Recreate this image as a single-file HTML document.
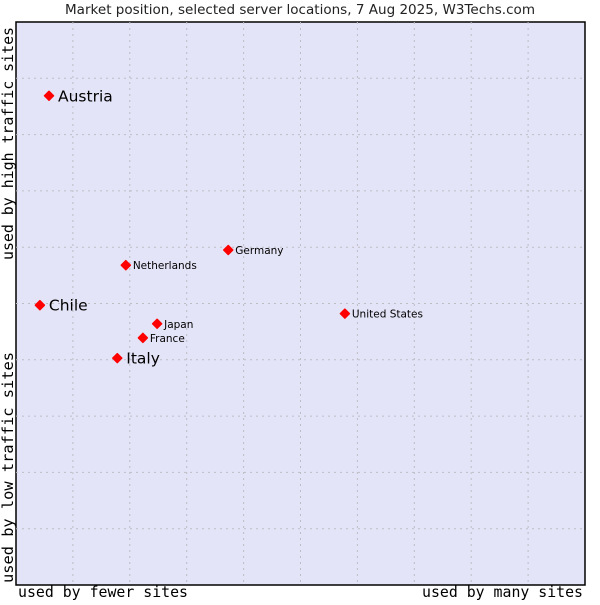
<!DOCTYPE html>
<html><head><meta charset="utf-8"><style>
body{margin:0;background:#fff;width:600px;height:600px;overflow:hidden}
svg text{font-family:"DejaVu Sans","Liberation Sans",sans-serif}
.mono{font-family:"DejaVu Sans Mono","Liberation Mono",monospace}
</style></head><body>
<svg id="chart" width="600" height="600">
<text x="65" y="14" font-size="13" textLength="470" lengthAdjust="spacingAndGlyphs" fill="#222">Market position, selected server locations, 7 Aug 2025, W3Techs.com</text>
<rect x="16" y="22" width="569" height="563" fill="#e4e4f8" stroke="#000" stroke-width="1.5"/>
<g id="grid"></g>
<g id="pts"></g>
<text class="mono" x="18" y="597" font-size="15" textLength="170" lengthAdjust="spacingAndGlyphs" fill="#000">used by fewer sites</text>
<text class="mono" x="422" y="597" font-size="15" textLength="161" lengthAdjust="spacingAndGlyphs" fill="#000">used by many sites</text>
<text class="mono" transform="translate(13,583) rotate(-90)" font-size="15" textLength="231" lengthAdjust="spacingAndGlyphs" fill="#000">used by low traffic sites</text>
<text class="mono" transform="translate(13,260) rotate(-90)" font-size="15" textLength="233" lengthAdjust="spacingAndGlyphs" fill="#000">used by high traffic sites</text>
</svg>
<script>
const names=["Austria","Chile","Italy","Netherlands","Germany","Japan","France","United States"];
const xValues=[5.8,4.2,17.8,19.3,37.3,24.8,22.3,57.8];
const yValues=[86.9,49.7,40.3,56.8,59.5,46.4,43.9,48.2];
const bigLabel=[true,true,true,false,false,false,false,false];
const gridTicks=[10,20,30,40,50,60,70,80,90];
const L=16,R=585,T=22,B=585;
const sx=v=>L+(R-L)*v/100, sy=v=>B-(B-T)*v/100;
const NS="http://www.w3.org/2000/svg";
const grid=document.getElementById('grid'), pts=document.getElementById('pts');
gridTicks.forEach(t=>{
  const a=document.createElementNS(NS,'line');
  
  
  a.setAttribute('x1',sx(t));a.setAttribute('x2',sx(t));a.setAttribute('y1',T);a.setAttribute('y2',B);
  a.setAttribute('stroke','#bdbdc4');a.setAttribute('stroke-dasharray','2,4');grid.appendChild(a);
  const b=document.createElementNS(NS,'line');
  
  
  b.setAttribute('y1',sy(t));b.setAttribute('y2',sy(t));b.setAttribute('x1',L);b.setAttribute('x2',R);
  b.setAttribute('stroke','#bdbdc4');b.setAttribute('stroke-dasharray','2,4');grid.appendChild(b);
});
names.forEach((n,i)=>{
  const x=sx(xValues[i]),y=sy(yValues[i]);
  const c=document.createElementNS(NS,'path');
  
  
  c.setAttribute('d',`M${x-4.5},${y}L${x},${y-4.5}L${x+4.5},${y}L${x},${y+4.5}Z`);
  c.setAttribute('fill','#f00');c.setAttribute('stroke','#f00');c.setAttribute('stroke-width','1.5');c.setAttribute('stroke-linejoin','round');
  pts.appendChild(c);
  const t=document.createElementNS(NS,'text');
  
  
  t.setAttribute('x',x+(bigLabel[i]?9:7));
  t.setAttribute('y',y+(bigLabel[i]?5.5:4));
  t.setAttribute('font-size',bigLabel[i]?15.5:10.5);
  t.setAttribute('fill','#000');
  t.textContent=n;pts.appendChild(t);
});
</script>
</body></html>
